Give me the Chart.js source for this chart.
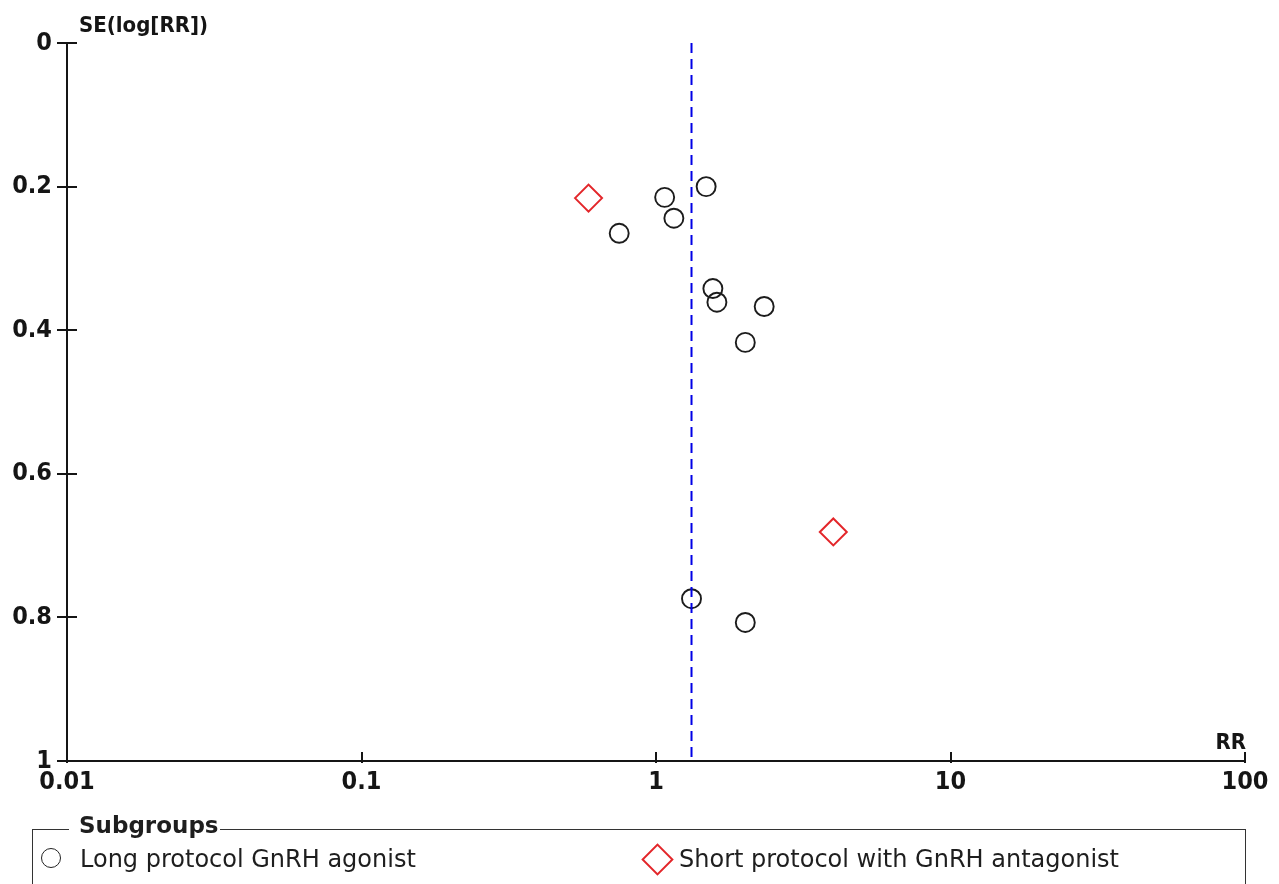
<!DOCTYPE html>
<html>
<head>
<meta charset="utf-8">
<title>Funnel plot</title>
<script src="https://cdn.jsdelivr.net/npm/chart.js@4/dist/chart.umd.min.js"></script>
<style>
  html, body { margin: 0; padding: 0; background: #fff; }
  #wrap { position: relative; width: 1279px; height: 884px; overflow: hidden; }
  #chart { position: absolute; left: 0; top: 0; }
  .subgroups {
    position: absolute; left: 32px; top: 829px; width: 1214px; height: 90px;
    border: 1.6px solid #333; box-sizing: border-box;
    font-family: "DejaVu Sans", sans-serif; color: #1e1e1e;
  }
  .subgroups .caption {
    position: absolute; left: 36px; top: -16px; line-height: 23px;
    background: #fff; padding: 0 1px 0 10px;
    font-weight: bold; font-size: 23px; color: #1e1e1e;
  }
  .item { position: absolute; top: 15px; font-size: 24px; line-height: 28px; white-space: nowrap; }
  .item .txt { position: absolute; top: 0; }
  .mk-circle {
    position: absolute; width: 18px; height: 18px; border: 1.8px solid #222;
    border-radius: 50%; top: 3px;
  }
  .mk-diamond {
    position: absolute; width: 19px; height: 19px; border: 2px solid #e3262a;
    transform: rotate(45deg); top: 3px;
  }
</style>
</head>
<body>
<div id="wrap">
  <canvas id="chart" width="1279" height="884"></canvas>
  <div class="subgroups">
    <span class="caption">Subgroups</span>
    <div class="item" style="left:8px;">
      <span class="mk-circle" style="left:0px;"></span>
      <span class="txt" style="left:39px;">Long protocol GnRH agonist</span>
    </div>
    <div class="item" style="left:611px;">
      <span class="mk-diamond" style="left:2px;"></span>
      <span class="txt" style="left:35px;">Short protocol with GnRH antagonist</span>
    </div>
  </div>
</div>
<script>
// Risk ratios and their standard errors (log scale) per study
const longRR  = [1.48, 1.07, 1.15, 0.75, 1.56, 1.61, 2.33, 2.01, 1.32, 2.01];
const longSE  = [0.200, 0.215, 0.244, 0.265, 0.342, 0.361, 0.367, 0.417, 0.774, 0.807];
const shortRR = [0.59, 4.0];
const shortSE = [0.216, 0.681];

// Pooled estimate drawn as a vertical reference line
const pooledRR = 1.32;
const seRange = [0, 1];

// Axis ticks and their labels
const rrTicks = [0.01, 0.1, 1, 10, 100];
const rrTickLabels = ['0.01', '0.1', '1', '10', '100'];
const seTicks = [0, 0.2, 0.4, 0.6, 0.8, 1];
const seTickLabels = ['0', '0.2', '0.4', '0.6', '0.8', '1'];

const axisColor = '#151515';
const tickFont = { family: '"DejaVu Sans Condensed", "DejaVu Sans"', weight: 'bold', size: 25 };

// Tick marks crossing the axes plus the axis titles
const axisDecor = {
  id: 'axisDecor',
  afterDraw(chart) {
    const { ctx, scales: { x, y } } = chart;
    const axisX = x.getPixelForValue(rrTicks[0]);
    const axisY = y.getPixelForValue(seRange[1]);
    ctx.save();
    ctx.strokeStyle = axisColor;
    ctx.lineWidth = 2;
    ctx.beginPath();
    seTicks.forEach(v => {
      const py = Math.round(y.getPixelForValue(v));
      ctx.moveTo(axisX - 10, py);
      ctx.lineTo(axisX + 10, py);
    });
    rrTicks.forEach(v => {
      const px = Math.round(x.getPixelForValue(v));
      ctx.moveTo(px, axisY - 9);
      ctx.lineTo(px, axisY + 2);
    });
    ctx.stroke();

    ctx.fillStyle = axisColor;
    ctx.font = 'bold 22px "DejaVu Sans Condensed", "DejaVu Sans"';
    ctx.textBaseline = 'alphabetic';
    ctx.textAlign = 'left';
    ctx.fillText('SE(log[RR])', axisX + 12, 32);
    ctx.textAlign = 'right';
    ctx.fillText('RR', x.getPixelForValue(rrTicks[rrTicks.length - 1]) + 1, axisY - 12);
    ctx.restore();
  }
};

new Chart(document.getElementById('chart'), {
  data: {
    datasets: [
      {
        type: 'line',
        label: 'Pooled RR',
        data: seRange.map(se => ({ x: pooledRR, y: se })),
        borderColor: '#0000e6',
        borderWidth: 2,
        borderDash: [10, 6],
        pointRadius: 0,
        fill: false
      },
      {
        type: 'scatter',
        label: 'Long protocol GnRH agonist',
        data: longRR.map((r, i) => ({ x: r, y: longSE[i] })),
        pointStyle: 'circle',
        pointRadius: 9.5,
        borderColor: '#1c1c1c',
        borderWidth: 1.9,
        backgroundColor: 'rgba(0,0,0,0)'
      },
      {
        type: 'scatter',
        label: 'Short protocol with GnRH antagonist',
        data: shortRR.map((r, i) => ({ x: r, y: shortSE[i] })),
        pointStyle: 'rectRot',
        pointRadius: 13.5,
        borderColor: '#e3262a',
        borderWidth: 2,
        backgroundColor: 'rgba(0,0,0,0)'
      }
    ]
  },
  options: {
    responsive: false,
    animation: false,
    events: [],
    layout: { padding: { left: 0, top: 43, right: 34, bottom: 0 } },
    plugins: { legend: { display: false }, tooltip: { enabled: false } },
    scales: {
      x: {
        type: 'logarithmic',
        position: 'bottom',
        min: rrTicks[0],
        max: rrTicks[rrTicks.length - 1],
        afterBuildTicks: s => { s.ticks = rrTicks.map(v => ({ value: v })); },
        afterFit: s => { s.height = 123; },
        ticks: {
          callback: (v, i) => rrTickLabels[i],
          autoSkip: false, maxRotation: 0, minRotation: 0,
          padding: 6, font: tickFont, color: axisColor
        },
        grid: { display: false, drawTicks: false },
        border: { display: true, color: axisColor, width: 2 }
      },
      y: {
        type: 'linear',
        position: 'left',
        reverse: true,
        min: seRange[0],
        max: seRange[1],
        afterBuildTicks: s => { s.ticks = seTicks.map(v => ({ value: v })); },
        afterFit: s => { s.width = 67; },
        ticks: {
          callback: (v, i) => seTickLabels[i],
          padding: 15, font: tickFont, color: axisColor
        },
        grid: { display: false, drawTicks: false },
        border: { display: true, color: axisColor, width: 2 }
      }
    }
  },
  plugins: [axisDecor]
});
</script>
</body>
</html>
